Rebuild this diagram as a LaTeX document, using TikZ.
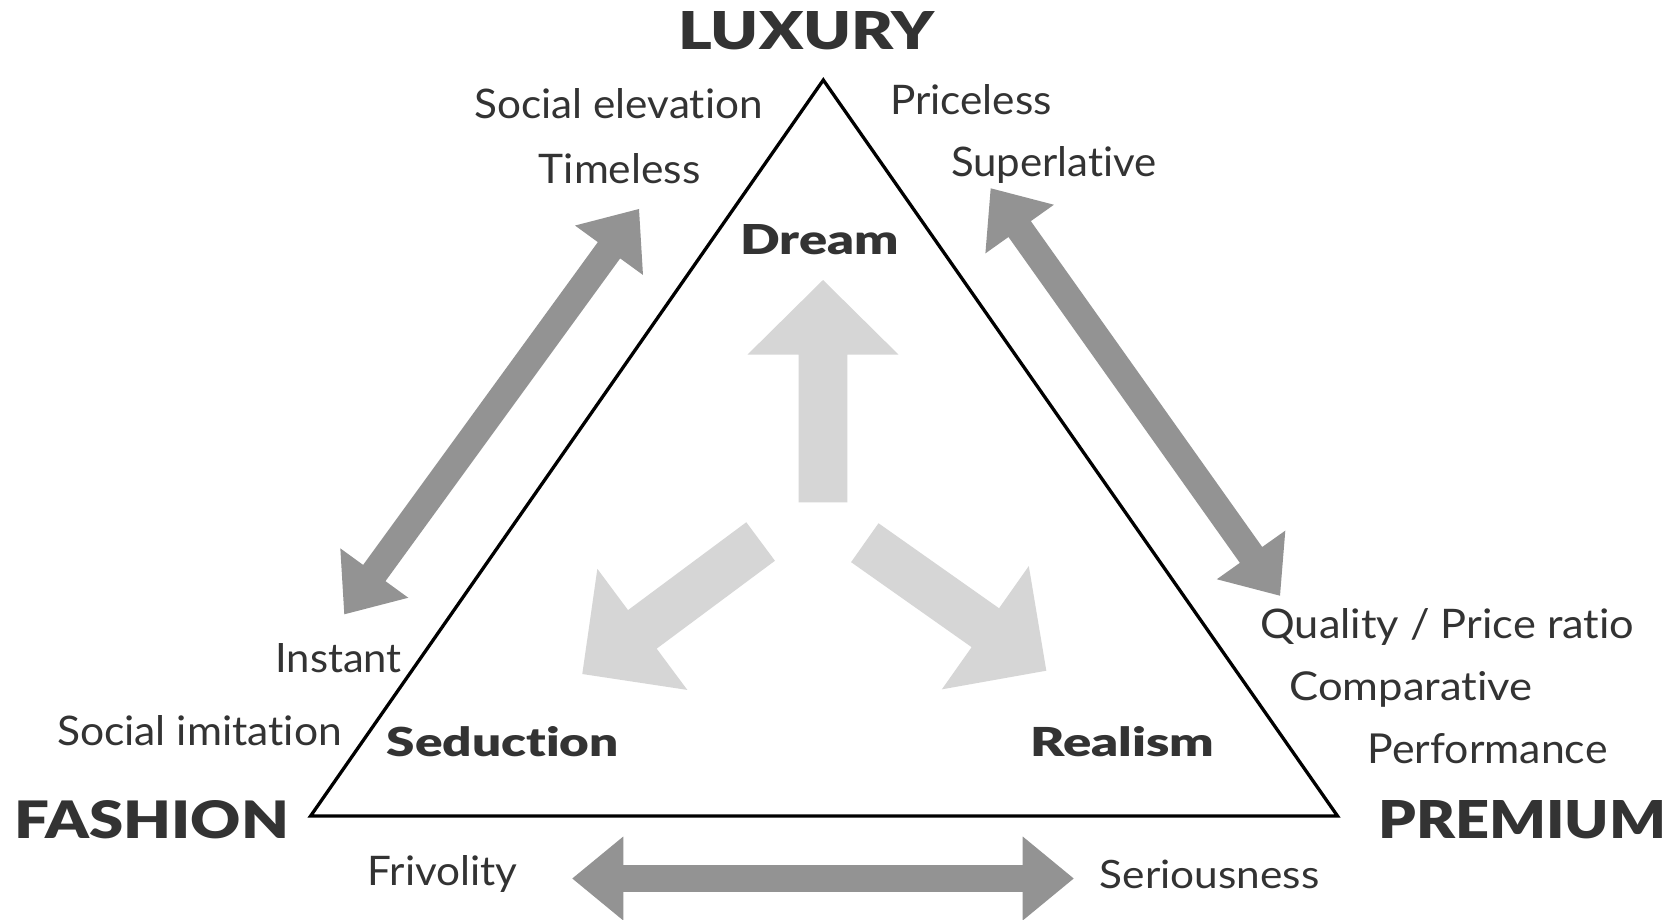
\documentclass[tikz,border=0pt]{standalone}
\usepackage{fontspec}
\usepackage{graphicx}
\usetikzlibrary{calc}
\setmainfont{Lato}[Ligatures={NoCommon,NoRare}]
\newfontfamily\heavyfont{Lato Black}[Ligatures={NoCommon,NoRare}]
\definecolor{ink}{RGB}{51,51,51}
\definecolor{darkarrow}{RGB}{147,147,147}
\definecolor{lightarrow}{RGB}{214,214,214}

% text squeezed into a box of given width and height (pt)
\newcommand{\fitbox}[3]{\resizebox{#1pt}{#2pt}{#3}}

% block arrow with one head: [style]{tail}{tip}{shaft half}{head half}{head length}
\newcommand{\onearrow}[6][]{%
  \coordinate (oa-h) at ($(#3)!#6!(#2)$);
  \fill[#1] ($(#2)!#4!90:(#3)$) -- ($(oa-h)!#4!90:(#3)$) -- ($(oa-h)!#5!90:(#3)$)
    -- (#3) -- ($(oa-h)!#5!-90:(#3)$) -- ($(oa-h)!#4!-90:(#3)$)
    -- ($(#2)!#4!-90:(#3)$) -- cycle;}

% block arrow with two heads: [style]{tip a}{tip b}{shaft half}{head half}{head length}
\newcommand{\dblarrow}[6][]{%
  \coordinate (da-b) at ($(#3)!#6!(#2)$);
  \coordinate (da-a) at ($(#2)!#6!(#3)$);
  \fill[#1] (#2) -- ($(da-a)!#5!90:(#3)$) -- ($(da-a)!#4!90:(#3)$)
    -- ($(da-b)!#4!90:(#3)$) -- ($(da-b)!#5!90:(#3)$) -- (#3)
    -- ($(da-b)!#5!-90:(#3)$) -- ($(da-b)!#4!-90:(#3)$)
    -- ($(da-a)!#4!-90:(#3)$) -- ($(da-a)!#5!-90:(#3)$) -- cycle;}

\begin{document}
\begin{tikzpicture}[x=1pt,y=-1pt,
  lbl/.style={inner sep=0pt, anchor=base west, text=ink, font=\fontsize{40}{40}\selectfont},
  head/.style={lbl, font=\heavyfont\fontsize{40}{40}\selectfont},
  edge/.style={draw=black, line width=3.3pt, line join=miter}]

\useasboundingbox (0,0) rectangle (1679,920);
\fill[white] (0,0) rectangle (1679,920);

% the three poles of the triangle
\coordinate (apex)  at (823.3,80);
\coordinate (left)  at (310.6,816);
\coordinate (right) at (1337.5,816);
\draw[edge] (apex) -- (right) -- (left) -- cycle;

% corner titles
\node[head] (luxury)  at (678,50)    {\fitbox{256}{38}{LUXURY}};
\node[head] (fashion) at (13.9,838.3) {\fitbox{275}{38}{FASHION}};
\node[head] (premium) at (1378,838.3) {\fitbox{288}{38}{PREMIUM}};

% inner keywords
\node[head] (dream)     at (740,255)     {\fitbox{158.5}{30}{Dream}};
\node[head] (seduction) at (386.6,756.7) {\fitbox{232}{30}{Seduction}};
\node[head] (realism)   at (1030.1,756.7){\fitbox{184}{30}{Realism}};

% luxury side
\node[lbl] (elev)   at (474.4,118.3) {\fitbox{288}{30}{Social elevation}};
\node[lbl] (timel)  at (538.6,183.3) {\fitbox{161.7}{30}{Timeless}};
\node[lbl] (pricel) at (889.8,115)   {\fitbox{161.7}{30}{Priceless}};
\node[lbl] (superl) at (950.9,176.7) {\fitbox{205.6}{30}{Superlative}};

% fashion side
\node[lbl] (instant) at (275.2,672)   {\fitbox{126.4}{29}{Instant}};
\node[lbl] (imit)    at (56.8,745.5)  {\fitbox{284.8}{30}{Social imitation}};
\node[lbl] (frivol)  at (367.3,885.5) {\fitbox{149.9}{30}{Frivolity}};

% premium side
\node[lbl] (qpr)     at (1260.3,638.3) {\fitbox{373.7}{30}{Quality / Price ratio}};
\node[lbl] (compar)  at (1289.2,700)   {\fitbox{243.1}{29}{Comparative}};
\node[lbl] (perf)    at (1367.4,763.3) {\fitbox{239.9}{30}{Performance}};
\node[lbl] (serious) at (1099.7,888.3) {\fitbox{219.5}{28.5}{Seriousness}};

% tension arrows between the poles
\coordinate (fl-a) at (344.3,614.3);
\coordinate (fl-b) at (639,209);
\coordinate (lp-a) at (990.7,188.3);
\coordinate (lp-b) at (1280,595.7);
\coordinate (fp-a) at (572.3,878.5);
\coordinate (fp-b) at (1073.7,878.5);
\dblarrow[darkarrow]{fl-a}{fl-b}{13.8pt}{42pt}{51pt}
\dblarrow[darkarrow]{lp-a}{lp-b}{13.7pt}{42pt}{50pt}
\dblarrow[darkarrow]{fp-a}{fp-b}{13.4pt}{42pt}{51pt}

% central arrows towards the three keywords
\coordinate (up-t) at (823,502.3);
\coordinate (up-h) at (823,280);
\coordinate (sl-t) at (760.6,541.5);
\coordinate (sl-h) at (582.3,674);
\coordinate (sr-t) at (864.8,542.7);
\coordinate (sr-h) at (1046.3,670.7);
\onearrow[lightarrow]{up-t}{up-h}{24.3pt}{75.4pt}{74.5pt}
\onearrow[lightarrow]{sl-t}{sl-h}{24pt}{75.4pt}{74.8pt}
\onearrow[lightarrow]{sr-t}{sr-h}{23.8pt}{75.4pt}{74.6pt}
\end{tikzpicture}
\end{document}
